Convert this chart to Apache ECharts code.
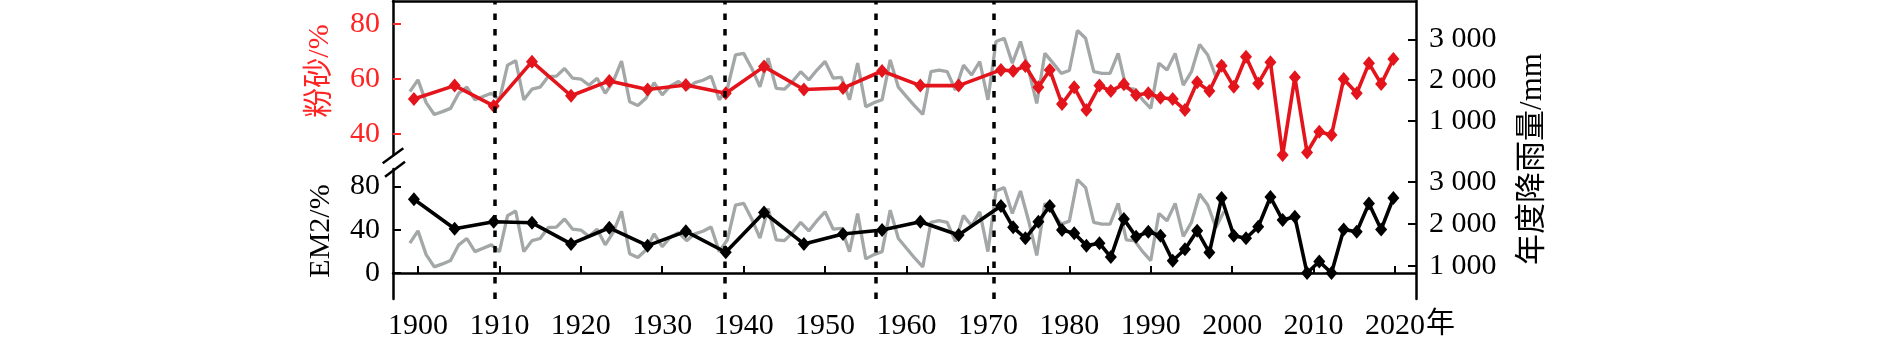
<!DOCTYPE html>
<html>
<head>
<meta charset="utf-8">
<script src="https://cdn.jsdelivr.net/npm/echarts@6/dist/echarts.min.js"></script>
<style>
html,body{margin:0;padding:0;background:#fff;}
#c{width:1890px;height:346px;}
</style>
</head>
<body>
<div id="c"></div>
<script>
// ---- data ----
const years = [1899.5,1904.5,1909.3,1914.0,1918.8,1923.5,1928.2,1932.9,1937.8,1942.5,1947.4,1952.2,1957.0,1961.7,1966.4,1971.6,1973.1,1974.6,1976.2,1977.6,1979.1,1980.6,1982.1,1983.7,1985.1,1986.7,1988.2,1989.7,1991.2,1992.7,1994.2,1995.7,1997.2,1998.7,2000.2,2001.7,2003.2,2004.7,2006.2,2007.7,2009.2,2010.7,2012.2,2013.7,2015.3,2016.8,2018.3,2019.8];
const silt = [52.7,57.6,50.2,66.3,53.9,59.3,56.2,57.8,54.8,64.5,56.2,56.7,62.9,57.6,57.6,63.3,62.9,64.7,57.0,63.3,50.9,57.0,48.7,57.6,55.6,58.1,54.2,54.8,53.2,52.7,48.7,58.8,55.6,64.8,57.2,68.1,58.4,66.1,32.4,60.6,33.3,40.8,39.6,60.0,54.8,65.7,58.2,67.3];
const em2 = [68.1,40.9,47.3,46.4,26.9,41.8,25.3,38.5,19.2,55.9,26.9,36.0,39.7,47.3,35.1,62.0,42.2,32.1,47.3,62.0,39.7,36.7,25.3,27.5,14.7,49.8,33.5,38.1,34.5,11.3,22.0,39.0,18.9,69.3,34.5,32.1,42.7,70.2,48.9,51.9,0,10.6,0,40.3,38.1,64.2,40.3,69.3];
const rainStart = 1899;
const rainfall = [1720,2010,1450,1160,1230,1310,1680,1830,1520,1600,
  1680,1520,2370,2480,1520,1780,1830,2090,2100,2290,
  2050,2030,1880,2050,1680,1980,2470,1470,1380,1560,
  1940,1640,1860,1970,1780,1940,2000,2100,1520,1800,
  2620,2660,2290,1840,2540,1800,1780,1970,2210,2010,
  2250,2460,2050,2070,1520,2420,1350,1450,1520,2500,
  1830,1600,1370,1160,2210,2250,2210,1760,2370,2130,
  2460,1520,2950,3030,2420,2950,2250,1430,2660,2420,
  2170,2240,3220,3030,2210,2170,2170,2660,1800,1780,
  1520,1310,2420,2250,2660,1880,2210,2880,2620,2090,2470];
const dividers = [1909.4, 1937.7, 1956.2, 1970.7];
const xTicks = [1900,1910,1920,1930,1940,1950,1960,1970,1980,1990,2000,2010,2020];
const siltTicks = [40,60,80];
const em2Ticks = [0,40,80];
const rainTicks = [1000,2000,3000];

// ---- chart ----
const FONT = "'Liberation Serif','Noto Sans CJK SC',serif";
const RED_TXT = '#ff2424';
const RED_LINE = '#e3141b';
const GRAY = '#a3a7a7';
const XMIN = 1896.93, XMAX = 2022.58;

const siltPts = years.map((y,i)=>[y, silt[i]]);
const em2Pts = years.map((y,i)=>[y, em2[i]]);
const rainPts = rainfall.map((v,i)=>[rainStart + i, v]);
const fmtRain = v => { const s = String(v); return s.slice(0, s.length-3) + ' ' + s.slice(-3); };

const axisLineStyle = {color:'#000', width:2.5};
const labelBase = {fontFamily: FONT, fontSize: 30, color:'#000'};

const chart = echarts.init(document.getElementById('c'), null, {renderer:'canvas'});
chart.setOption({
  animation: false,
  backgroundColor: '#fff',
  grid: [
    {left:393, right:474, top:1, height:154},
    {left:393, right:474, top:169, height:130},
    {left:393, right:474, top:1, height:298}
  ],
  xAxis: [
    {gridIndex:0, type:'value', min:XMIN, max:XMAX, position:'top',
     axisLine:{show:true, lineStyle:axisLineStyle}, axisTick:{show:false}, axisLabel:{show:false}, splitLine:{show:false}},
    {gridIndex:1, type:'value', min:XMIN, max:XMAX, position:'bottom',
     axisLine:{show:true, lineStyle:axisLineStyle},
     axisTick:{show:true, inside:true, length:7, customValues:xTicks, lineStyle:{color:'#000', width:2}},
     axisLabel:Object.assign({customValues:xTicks, margin:12, formatter: v=>String(v)}, labelBase),
     splitLine:{show:false}},
    {gridIndex:2, type:'value', min:XMIN, max:XMAX, show:false}
  ],
  yAxis: [
    {gridIndex:0, type:'value', min:32.36, max:88.36, position:'left',
     axisLine:{show:true, lineStyle:axisLineStyle},
     axisTick:{show:true, inside:true, length:8, customValues:siltTicks, lineStyle:{color:RED_TXT, width:2}},
     axisLabel:Object.assign({}, labelBase, {color:RED_TXT, customValues:siltTicks, margin:13}),
     splitLine:{show:false}},
    {gridIndex:0, type:'value', min:165.6, max:3944.8, position:'right',
     axisLine:{show:false},
     axisTick:{show:true, inside:true, length:8, customValues:rainTicks, lineStyle:{color:'#000', width:2}},
     axisLabel:Object.assign({}, labelBase, {customValues:rainTicks, margin:13, formatter:fmtRain}),
     splitLine:{show:false}},
    {gridIndex:1, type:'value', min:-24.0, max:96.1, position:'left',
     axisLine:{show:true, lineStyle:axisLineStyle},
     axisTick:{show:true, inside:true, length:8, customValues:em2Ticks, lineStyle:{color:'#000', width:2}},
     axisLabel:Object.assign({}, labelBase, {customValues:em2Ticks, margin:13}),
     splitLine:{show:false}},
    {gridIndex:1, type:'value', min:217, max:3301, position:'right',
     axisLine:{show:false},
     axisTick:{show:true, inside:true, length:8, customValues:rainTicks, lineStyle:{color:'#000', width:2}},
     axisLabel:Object.assign({}, labelBase, {customValues:rainTicks, margin:13, formatter:fmtRain}),
     splitLine:{show:false}},
    {gridIndex:1, type:'value', min:402.3, max:3470, show:false},
    {gridIndex:2, type:'value', min:0, max:1, position:'right',
     axisLine:{show:true, lineStyle:axisLineStyle}, axisTick:{show:false}, axisLabel:{show:false}, splitLine:{show:false}}
  ],
  series: [
    {type:'line', xAxisIndex:2, yAxisIndex:5, data:[], z:1, silent:true,
     markLine:{silent:true, symbol:['none','none'], label:{show:false},
       lineStyle:{color:'#000', width:3.5, type:[6.5,9]},
       data: dividers.map(v=>({xAxis:v}))}},
    {type:'line', xAxisIndex:0, yAxisIndex:1, data:rainPts, showSymbol:false, symbol:'none', z:2,
     lineStyle:{color:GRAY, width:3.3}},
    {type:'line', xAxisIndex:1, yAxisIndex:4, data:rainPts, showSymbol:false, symbol:'none', z:2,
     lineStyle:{color:GRAY, width:3.3}},
    {type:'line', xAxisIndex:0, yAxisIndex:0, data:siltPts, z:3, clip:false,
     symbol:'diamond', symbolSize:[12,14], itemStyle:{color:RED_LINE}, lineStyle:{color:RED_LINE, width:3.6}},
    {type:'line', xAxisIndex:1, yAxisIndex:2, data:em2Pts, z:3, clip:false,
     symbol:'diamond', symbolSize:[12,14], itemStyle:{color:'#000'}, lineStyle:{color:'#000', width:3.6}}
  ],
  graphic: [
    {type:'text', x:320, y:71, rotation:Math.PI/2,
     style:{text:'粉砂/%', fill:RED_TXT, font:"30px 'Liberation Serif','Noto Sans CJK SC',serif", align:'center', verticalAlign:'middle'}},
    {type:'text', x:321.5, y:231, rotation:Math.PI/2,
     style:{text:'EM2/%', fill:'#000', font:"30px 'Liberation Serif','Noto Sans CJK SC',serif", align:'center', verticalAlign:'middle'}},
    {type:'text', x:1533, y:159, rotation:Math.PI/2,
     style:{text:'年度降雨量/mm', fill:'#000', font:"31px 'Liberation Serif','Noto Sans CJK SC',serif", align:'center', verticalAlign:'middle'}},
    {type:'text', x:1426, y:325,
     style:{text:'年', fill:'#000', font:"29px 'Liberation Serif','Noto Sans CJK SC',serif", align:'left', verticalAlign:'middle'}},
    {type:'line', shape:{x1:382.7, y1:163.3, x2:403.3, y2:148.3}, style:{stroke:'#000', lineWidth:2.5}},
    {type:'line', shape:{x1:385, y1:176.7, x2:405, y2:161.7}, style:{stroke:'#000', lineWidth:2.5}}
  ]
});
</script>
</body>
</html>
